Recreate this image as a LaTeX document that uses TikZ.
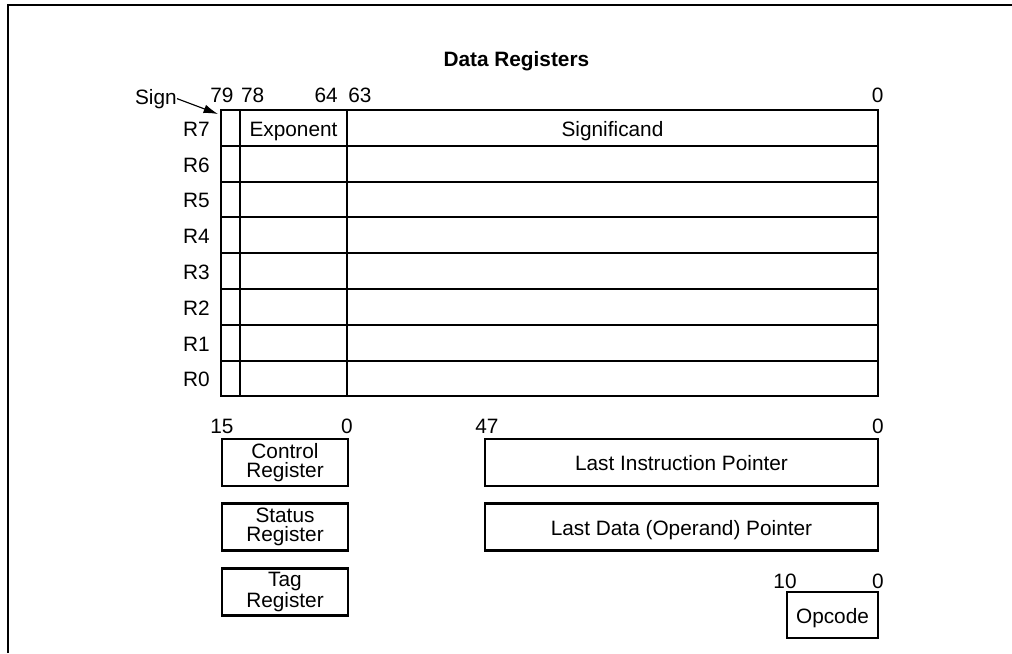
\documentclass[tikz,border=0pt]{standalone}
\usepackage{fontspec}
\setmainfont{Liberation Sans}
\usetikzlibrary{arrows.meta}

\begin{document}
\begin{tikzpicture}[
    font=\fontsize{14.8pt}{13.5pt}\selectfont,
    cell/.style={rectangle, draw, line width=1.5pt, inner sep=0pt, minimum height=0.895cm, text height=12pt, text depth=0pt},
    signcell/.style={cell, minimum width=0.475cm},
    expcell/.style={cell, minimum width=2.675cm},
    sigcell/.style={cell, minimum width=13.275cm},
    rlabel/.style={anchor=east, inner sep=0pt, text height=12pt, text depth=0pt},
    bits/.style={anchor=base, inner sep=0pt},
    reg/.style={rectangle, draw, line width=1.5pt, inner sep=0pt, minimum width=3.15cm, minimum height=1.175cm, align=center},
    ptr/.style={rectangle, draw, line width=1.5pt, inner sep=0pt, minimum width=9.825cm, minimum height=1.175cm, text height=12pt, text depth=0pt}
]
\useasboundingbox (0,0) rectangle (25.3,-16.325);

% Frame
\draw[line width=2.1pt] (0.2,-16.325) -- (0.2,-0.125) -- (25.3,-0.125);

% Title
\node[anchor=base, font=\fontsize{14.8pt}{13.5pt}\selectfont\bfseries] (title) at (12.91,-1.65) {Data Registers};

% Bit positions
\node[bits] (b79) at (5.55,-2.55) {79};
\node[bits, anchor=base west] (b78) at (6.02,-2.55) {78};
\node[bits, anchor=base east] (b64) at (8.45,-2.55) {64};
\node[bits, anchor=base west] (b63) at (8.7,-2.55) {63};
\node[bits] (b0) at (21.94,-2.55) {0};

% Sign pointer
\node[bits, anchor=base east] (sign) at (4.425,-2.6) {Sign};
\coordinate (signtip) at (5.45,-2.85);
\draw[-{Latex[length=0.36cm, width=0.22cm]}, line width=0.8pt] (sign.east) -- (signtip);

% Data registers
\node[signcell] (sign7) at (5.7625,-3.1975) {};
\node[expcell] (exp7) at (7.3375,-3.1975) {Exponent};
\node[sigcell] (sig7) at (15.3125,-3.1975) {Significand};
\node[rlabel] (lbl7) at (5.25,-3.1975) {R7};
\foreach \r [count=\i] in {6,5,4,3,2,1,0} {
    \pgfmathsetmacro{\yc}{-3.1975-0.895*\i}
    \node[signcell] (sign\r) at (5.7625,\yc) {};
    \node[expcell] (exp\r) at (7.3375,\yc) {};
    \node[sigcell] (sig\r) at (15.3125,\yc) {};
    \node[rlabel] (lbl\r) at (5.25,\yc) {R\r};
}

% Control, status and tag registers
\node[bits] (c15) at (5.55,-10.825) {15};
\node[bits] (c0) at (8.675,-10.825) {0};
\node[reg] (ctrl) at (7.125,-11.5625) {Control\\Register};
\node[reg] (stat) at (7.125,-13.175) {Status\\Register};
\node[reg] (tagr) at (7.125,-14.8) {Tag\\Register};

% Pointers
\node[bits] (p47) at (12.175,-10.825) {47};
\node[bits] (p0) at (21.95,-10.825) {0};
\node[ptr] (lip) at (17.0375,-11.5625) {Last Instruction Pointer};
\node[ptr] (ldp) at (17.0375,-13.175) {Last Data (Operand) Pointer};

% Opcode
\node[bits] (o10) at (19.625,-14.7) {10};
\node[bits] (o0) at (21.95,-14.7) {0};
\node[ptr, minimum width=2.275cm, minimum height=1.15cm] (opc) at (20.8125,-15.375) {Opcode};
\end{tikzpicture}
\end{document}
